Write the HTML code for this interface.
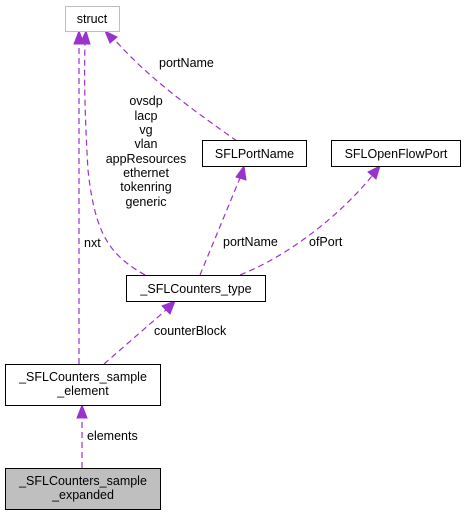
<!DOCTYPE html>
<html><head><style>body{margin:0;background:#fff}svg{display:block}</style></head><body>
<svg width="466" height="515" viewBox="0 0 466 515" xmlns="http://www.w3.org/2000/svg" font-family="Liberation Sans, sans-serif" font-size="12.5">
<g fill="none" stroke="#9a32cd" stroke-width="1.2" stroke-dasharray="6,4">
<path d="M82,468 L82,418"/>
<path d="M104,364 L166,310"/>
<path d="M79,364 L79,44"/>
<path d="M145,275 C110,255 95,235 88,170 C85,120 84,80 85,44"/>
<path d="M200,275 L240,178"/>
<path d="M240,275 C290,255 340,215 372,176"/>
<path d="M237,141 C200,115 150,80 115,40"/>
</g>
<g fill="#9a32cd" stroke="#9a32cd">
<polygon points="82,405 77,418 87,418"/>
<polygon points="175,301 162,306 170,314"/>
<polygon points="79,31 74,44 84,44"/>
<polygon points="86,31 80,44 90,44"/>
<polygon points="244,166 236,177 246,180"/>
<polygon points="380,166 368,172 376,179"/>
<polygon points="105,31 110,43 117,37"/>
</g>
<g stroke-width="1" >
<rect x="65.5" y="6.5" width="54" height="25" fill="#fff" stroke="#bfbfbf"/>
<rect x="202.5" y="140.5" width="104" height="26" fill="#fff" stroke="#000"/>
<rect x="331.5" y="140.5" width="129" height="26" fill="#fff" stroke="#000"/>
<rect x="126.5" y="275.5" width="139" height="26" fill="#fff" stroke="#000"/>
<rect x="5.5" y="364.5" width="155" height="41" fill="#fff" stroke="#000"/>
<rect x="5.5" y="468.5" width="155" height="41" fill="#bfbfbf" stroke="#000"/>
</g>
<g fill="#000" text-anchor="middle">
<text x="92" y="23">struct</text>
<text x="254.5" y="158">SFLPortName</text>
<text x="396" y="158">SFLOpenFlowPort</text>
<text x="196" y="293">_SFLCounters_type</text>
<text x="83" y="381">_SFLCounters_sample</text>
<text x="83" y="395">_element</text>
<text x="83" y="485">_SFLCounters_sample</text>
<text x="83" y="499">_expanded</text>
<text x="146" y="105">ovsdp</text>
<text x="146" y="120">lacp</text>
<text x="146" y="134">vg</text>
<text x="146" y="148">vlan</text>
<text x="146" y="163">appResources</text>
<text x="146" y="177">ethernet</text>
<text x="146" y="191">tokenring</text>
<text x="146" y="206">generic</text>
</g>
<g fill="#000">
<text x="159" y="67">portName</text>
<text x="84" y="247">nxt</text>
<text x="223" y="246">portName</text>
<text x="309" y="246">ofPort</text>
<text x="154" y="335">counterBlock</text>
<text x="87" y="440">elements</text>
</g>
</svg>
</body></html>
